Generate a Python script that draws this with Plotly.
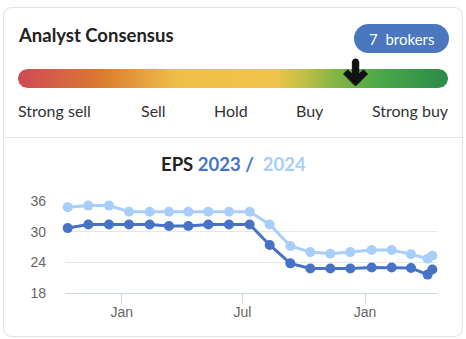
import numpy as np
import plotly.graph_objects as go

# ---- data -------------------------------------------------------------
rating_labels = ["Strong sell", "Sell", "Hold", "Buy", "Strong buy"]
consensus_score = 4.14          # 1 = Strong sell ... 5 = Strong buy
broker_count = 7

dates = [
    "2022-10-12", "2022-11-12", "2022-12-13", "2023-01-12", "2023-02-12",
    "2023-03-13", "2023-04-11", "2023-05-11", "2023-06-11", "2023-07-12",
    "2023-08-11", "2023-09-11", "2023-10-11", "2023-11-10", "2023-12-10",
    "2024-01-11", "2024-02-10", "2024-03-10", "2024-04-04", "2024-04-11",
]
eps_2023 = [30.7, 31.4, 31.4, 31.4, 31.4, 31.1, 31.1, 31.4, 31.4, 31.4,
            27.4, 23.8, 22.8, 22.8, 22.8, 23.0, 23.0, 22.9, 21.6, 22.6]
eps_2024 = [34.8, 35.1, 35.1, 33.9, 33.9, 33.9, 33.9, 33.9, 33.9, 33.9,
            31.4, 27.2, 26.0, 25.7, 26.0, 26.4, 26.4, 25.6, 24.7, 25.3]

y_ticks = [18, 24, 30, 36]
x_tick_dates = ["2023-01-01", "2023-07-01", "2024-01-01"]
x_tick_text = ["Jan", "Jul", "Jan"]

# ---- styling ----------------------------------------------------------
W, H = 466, 339
DARK = "#4673c6"
LIGHT = "#a7cff9"
BADGE = "#4a77be"
HEAD_FONT = "Lato"
AXIS_FONT = "Liberation Sans"


def fx(px):
    """pixel x -> paper fraction"""
    return px / W


def fy(py):
    """pixel y (from top) -> paper fraction"""
    return 1 - py / H


fig = go.Figure()

# EPS lines
fig.add_trace(go.Scatter(
    x=dates, y=eps_2024, mode="lines+markers", name="2024",
    line=dict(color=LIGHT, width=3), marker=dict(color=LIGHT, size=10),
    cliponaxis=False, hoverinfo="skip", xaxis="x", yaxis="y"))
fig.add_trace(go.Scatter(
    x=dates, y=eps_2023, mode="lines+markers", name="2023",
    line=dict(color=DARK, width=3), marker=dict(color=DARK, size=10),
    cliponaxis=False, hoverinfo="skip", xaxis="x", yaxis="y"))

# Consensus gauge bar: stadium outline with a horizontal gradient fill,
# drawn on its own unit axes that cover just the bar
bar_x0, bar_x1, bar_y0, bar_y1 = 18, 448, 69, 88
bw, bh = bar_x1 - bar_x0, bar_y1 - bar_y0
r = bh / 2
t_right = np.linspace(-np.pi / 2, np.pi / 2, 30)
t_left = np.linspace(np.pi / 2, 3 * np.pi / 2, 30)
sx = np.concatenate([bw - r + r * np.cos(t_right), r + r * np.cos(t_left)])
sy = np.concatenate([r + r * np.sin(t_right), r + r * np.sin(t_left)])
fig.add_trace(go.Scatter(
    x=np.append(sx, sx[0]), y=np.append(sy, sy[0]), mode="lines",
    fill="toself", line=dict(width=0, color="rgba(0,0,0,0)"),
    fillgradient=dict(type="horizontal", colorscale=[
        [0.00, "#cf4a58"], [0.19, "#d97a30"], [0.37, "#f0bf48"],
        [0.60, "#f0c44c"], [0.66, "#c4c046"], [0.74, "#82b545"],
        [0.84, "#4aa947"], [1.00, "#2a8a4a"]]),
    hoverinfo="skip", xaxis="x2", yaxis="y2"))

shapes = []
annotations = []


def rounded_rect(x0, y0, x1, y1, rr):
    pts = [(x0 + rr, y0), (x1 - rr, y0), (x1, y0), (x1, y0 + rr), (x1, y1 - rr),
           (x1, y1), (x1 - rr, y1), (x0 + rr, y1), (x0, y1), (x0, y1 - rr),
           (x0, y0 + rr), (x0, y0), (x0 + rr, y0)]
    p = [(fx(a), fy(b)) for a, b in pts]
    return (f"M{p[0][0]},{p[0][1]} L{p[1][0]},{p[1][1]} Q{p[2][0]},{p[2][1]} {p[3][0]},{p[3][1]} "
            f"L{p[4][0]},{p[4][1]} Q{p[5][0]},{p[5][1]} {p[6][0]},{p[6][1]} "
            f"L{p[7][0]},{p[7][1]} Q{p[8][0]},{p[8][1]} {p[9][0]},{p[9][1]} "
            f"L{p[10][0]},{p[10][1]} Q{p[11][0]},{p[11][1]} {p[12][0]},{p[12][1]} Z")


# card outline and divider
shapes.append(dict(type="path", xref="paper", yref="paper", layer="below",
                   path=rounded_rect(3.5, 7.5, 462.5, 336.5, 9),
                   line=dict(color="#e2e2e2", width=1), fillcolor="rgba(0,0,0,0)"))
shapes.append(dict(type="line", xref="paper", yref="paper", layer="below",
                   x0=fx(3.5), x1=fx(462.5), y0=fy(137.5), y1=fy(137.5),
                   line=dict(color="#e6e6e6", width=1)))

# broker badge (pill)
bx0, bx1, by0, by1 = 354, 449, 24, 53
br = (by1 - by0) / 2
shapes.append(dict(type="rect", xref="paper", yref="paper",
                   x0=fx(bx0 + br), x1=fx(bx1 - br), y0=fy(by0), y1=fy(by1),
                   fillcolor=BADGE, line=dict(width=0)))
for cx in (bx0 + br, bx1 - br):
    shapes.append(dict(type="circle", xref="paper", yref="paper",
                       x0=fx(cx - br), x1=fx(cx + br), y0=fy(by0), y1=fy(by1),
                       fillcolor=BADGE, line=dict(width=0)))

# consensus arrow
ax = bar_x0 + (consensus_score - 1) / 4 * bw
sw, arm, th = 3.2, 12, 6
d = th / np.sqrt(2)
tip = 86
arm_y = tip - arm
inner_y = arm_y - d + (arm - d - sw)
arrow_pts = [(ax - sw, 61.5), (ax + sw, 61.5), (ax + sw, inner_y),
             (ax + arm - d, arm_y - d), (ax + arm, arm_y), (ax, tip),
             (ax - arm, arm_y), (ax - arm + d, arm_y - d), (ax - sw, inner_y)]
arrow = "M" + " L".join(f"{fx(a)},{fy(b)}" for a, b in arrow_pts) + " Z"
shapes.append(dict(type="path", xref="paper", yref="paper", path=arrow,
                   fillcolor="#111111", line=dict(color="#111111", width=1)))
shapes.append(dict(type="circle", xref="paper", yref="paper",
                   x0=fx(ax - sw), x1=fx(ax + sw), y0=fy(58.5), y1=fy(64.5),
                   fillcolor="#111111", line=dict(width=0)))

# header texts
annotations.append(dict(text="<b>Analyst Consensus</b>", x=fx(16), y=fy(35),
                        xref="paper", yref="paper", xanchor="left", yanchor="middle",
                        showarrow=False,
                        font=dict(family=HEAD_FONT, size=18.5, color="#222222")))
annotations.append(dict(text=f"{broker_count}&nbsp; brokers", x=fx((bx0 + bx1) / 2), y=fy(39),
                        xref="paper", yref="paper", xanchor="center", yanchor="middle",
                        showarrow=False, font=dict(family=HEAD_FONT, size=15, color="white")))

label_pos = [(16, "left"), (153, "center"), (231, "center"), (310, "center"), (451, "right")]
for lab, (lx, anchor) in zip(rating_labels, label_pos):
    annotations.append(dict(text=lab, x=fx(lx), y=fy(110), xref="paper", yref="paper",
                            xanchor=anchor, yanchor="middle", showarrow=False,
                            font=dict(family=HEAD_FONT, size=16, color="#333333")))

annotations.append(dict(
    text=(f"<b>EPS <span style='color:{DARK}'>2023</span> "
          f"<span style='color:{DARK}'>/</span>&nbsp; <span style='color:{LIGHT}'>2024</span></b>"),
    x=fx(233), y=fy(164), xref="paper", yref="paper", xanchor="center", yanchor="middle",
    showarrow=False, font=dict(family=HEAD_FONT, size=18.5, color="#222222")))

fig.update_layout(
    width=W, height=H, autosize=False,
    margin=dict(l=0, r=0, t=0, b=0, pad=0, autoexpand=False),
    paper_bgcolor="white", plot_bgcolor="rgba(0,0,0,0)",
    showlegend=False, hovermode=False,
    shapes=shapes, annotations=annotations,
    xaxis=dict(domain=[fx(65), fx(437)], range=["2022-10-08", "2024-04-18"],
               type="date", tickvals=x_tick_dates, ticktext=x_tick_text,
               ticks="outside", ticklen=10, tickcolor="#ccd6eb", tickwidth=1,
               ticklabelstandoff=-4,
               showline=True, linecolor="#ccd6eb", linewidth=1,
               showgrid=False, zeroline=False, anchor="y", automargin=False,
               tickfont=dict(family=AXIS_FONT, size=14, color="#666666"),
               fixedrange=True),
    yaxis=dict(domain=[fy(293), fy(201)], range=[18, 36],
               tickvals=y_ticks, showgrid=True, gridcolor="#e6e6e6", gridwidth=1,
               zeroline=False, showline=False, ticks="", anchor="x", automargin=False,
               ticklabelstandoff=18,
               tickfont=dict(family=AXIS_FONT, size=14, color="#666666"),
               fixedrange=True),
    xaxis2=dict(domain=[fx(bar_x0), fx(bar_x1)], range=[0, bw], visible=False,
                anchor="y2", fixedrange=True, autorange=False, automargin=False),
    yaxis2=dict(domain=[fy(bar_y1), fy(bar_y0)], range=[0, bh], visible=False,
                anchor="x2", fixedrange=True, autorange=False, automargin=False),
)

fig.write_html("out.html", config=dict(displayModeBar=False))
